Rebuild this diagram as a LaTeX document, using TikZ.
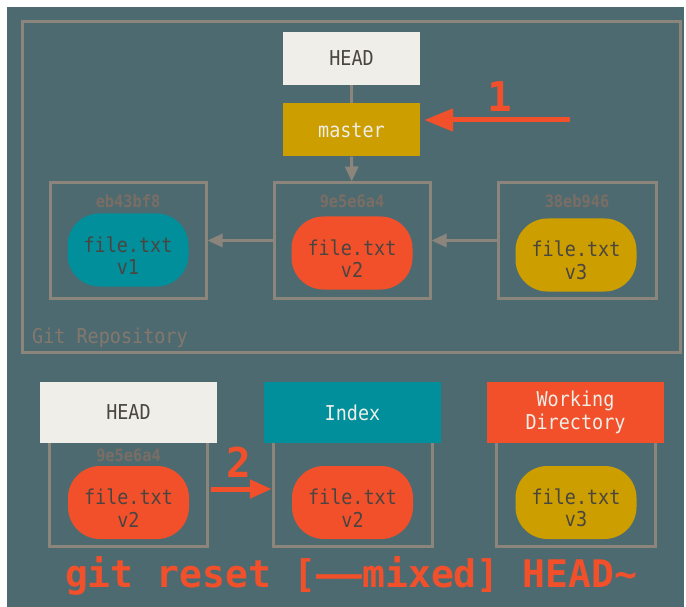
\documentclass[tikz,border=0pt]{standalone}
\usepackage{fontspec}
\newfontfamily\mono{DejaVu Sans Mono}
\newfontfamily\monon[FakeStretch=0.9]{DejaVu Sans Mono}
\usetikzlibrary{arrows.meta}
\definecolor{bgc}{HTML}{4E6A71}
\definecolor{framec}{HTML}{8C857B}
\definecolor{headc}{HTML}{EFEEE8}
\definecolor{masterc}{HTML}{CC9E00}
\definecolor{tealc}{HTML}{008F9B}
\definecolor{redc}{HTML}{F2502A}
\definecolor{darkc}{HTML}{4A4541}
\definecolor{hashc}{HTML}{7A6E64}
\definecolor{lightc}{HTML}{EFEEE8}
\definecolor{repoc}{HTML}{84786D}
\begin{document}
\begin{tikzpicture}[x=1pt,y=-1pt,
  lbl/.style={rectangle, inner sep=0pt, align=center, font=\monon\fontsize{20.5}{22.5}\selectfont},
  refbox/.style={lbl, minimum width=137pt, minimum height=53pt},
  areabox/.style={lbl, minimum width=177pt, minimum height=61pt},
  frm/.style={draw=framec, line width=3pt},
  cbox/.style={frm, rectangle, inner sep=0pt, minimum height=115pt},
  hash/.style={font=\monon\bfseries\fontsize{17}{18}\selectfont, text=hashc, inner sep=0pt},
  blob/.style={rectangle, inner sep=0pt, rounded corners=32pt, minimum width=121pt, minimum height=73pt,
    label={[lbl, text=darkc, yshift=-5.5pt]center:#1}},
  garrow/.style={draw=framec, line width=3pt, -{Triangle[length=15pt,width=13pt]}},
  gline/.style={draw=framec, line width=3pt},
  rarrow/.style={draw=redc, line width=5pt, -{Triangle[length=29pt,width=22pt]}},
  rarrowb/.style={draw=redc, line width=5pt, -{Triangle[length=22pt,width=18pt]}},
  num/.style={font=\mono\bfseries\fontsize{41}{41}\selectfont, text=redc, inner sep=0pt}
]
\useasboundingbox (0,0) rectangle (686,607);
\fill[white] (0,0) rectangle (686,607);
\fill[bgc] (7,7) rectangle (684,607);

% repository
\node[frm, rectangle, inner sep=0pt, minimum width=658pt, minimum height=330pt] (repo) at (351,187) {};
\node[anchor=west, inner sep=0pt, text=repoc, font=\monon\fontsize{20.5}{20.5}\selectfont] (repolbl) at (32,338) {Git Repository};

\node[refbox, fill=headc, text=darkc] (head) at (351.5,58.5) {HEAD};
\node[refbox, fill=masterc, text=lightc] (master) at (351.5,130) {master};

\node[cbox, minimum width=156pt] (c1) at (128,240.5) {};
\node[cbox, minimum width=156pt] (c2) at (352,240.5) {};
\node[cbox, minimum width=158pt] (c3) at (577,240.5) {};
\node[hash] (h1) at (128,201) {eb43bf8};
\node[hash] (h2) at (352,201) {9e5e6a4};
\node[hash] (h3) at (577,201) {38eb946};
\node[blob={file.txt\\v1}, fill=tealc] (b1) at (128,250) {};
\node[blob={file.txt\\v2}, fill=redc] (b2) at (352,253) {};
\node[blob={file.txt\\v3}, fill=masterc] (b3) at (576,255) {};

\draw[gline] (head) -- (master);
\draw[garrow] (master) -- (c2);
\draw[garrow] (c2.west) -- (c1.east);
\draw[garrow] (c3.west) -- (c2.east);

\coordinate (a1) at (570,120);
\draw[rarrow] (a1) -- ([xshift=4pt]a1 -| master.east);
\node[num] (n1) at (500,97) {1};

% bottom three areas
\node[minimum width=157pt, minimum height=103pt, inner sep=0pt] (hb) at (128.5,494.5) {};
\node[minimum width=158pt, minimum height=103pt, inner sep=0pt] (ib) at (353,494.5) {};
\node[minimum width=158pt, minimum height=103pt, inner sep=0pt] (wb) at (576,494.5) {};
\foreach \b in {hb,ib,wb}
  \draw[frm] (\b.north west) -- (\b.south west) -- (\b.south east) -- (\b.north east);

\node[areabox, fill=headc, text=darkc] (headb) at (128.5,412.5) {HEAD};
\node[areabox, fill=tealc, text=lightc] (index) at (352.5,412.5) {Index};
\node[areabox, fill=redc, text=lightc] (wd) at (575.5,412.5) {Working\\Directory};

\node[hash] (h4) at (128.5,455) {9e5e6a4};
\node[blob={file.txt\\v2}, fill=redc] (b4) at (128.5,502.5) {};
\node[blob={file.txt\\v2}, fill=redc] (b5) at (352.5,502.5) {};
\node[blob={file.txt\\v3}, fill=masterc] (b6) at (576,502.5) {};

\coordinate (a2) at (211,489);
\draw[rarrowb] (a2) -- ([xshift=-2pt]a2 -| ib.west);
\node[num] (n2) at (239,462) {2};

\node[font=\mono\bfseries\fontsize{38}{38}\selectfont, text=redc, inner sep=0pt] (cmd) at (351,576) {git reset [––mixed] HEAD\char`\~};
\end{tikzpicture}
\end{document}
